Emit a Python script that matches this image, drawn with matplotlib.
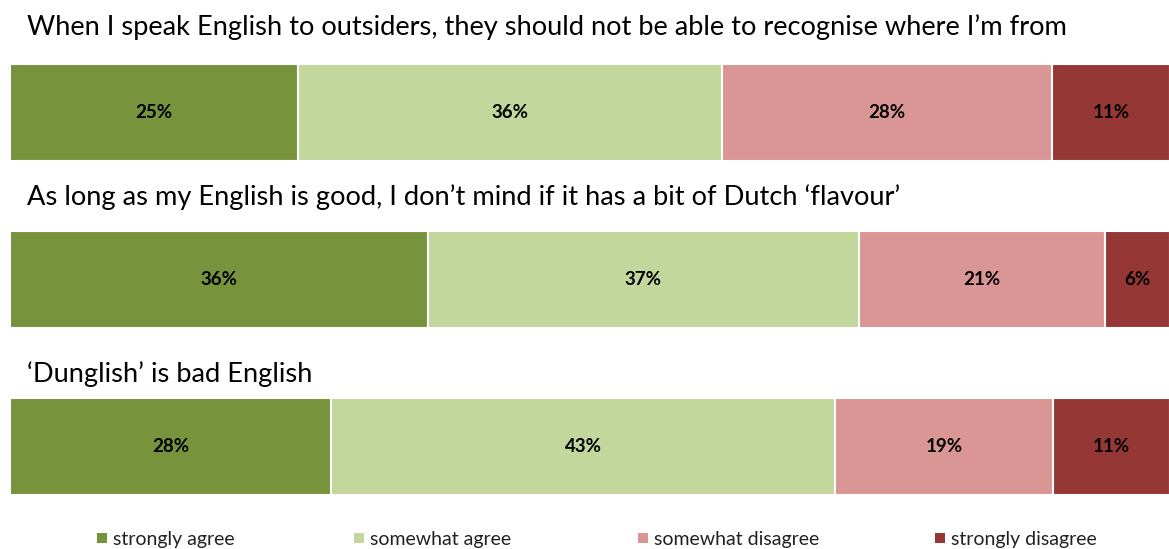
import matplotlib.pyplot as plt
from matplotlib.patches import Rectangle

plt.rcParams["font.family"] = ["Lato", "DejaVu Sans"]

statements = [
    "When I speak English to outsiders, they should not be able to recognise where I\u2019m from",
    "As long as my English is good, I don\u2019t mind if it has a bit of Dutch \u2018flavour\u2019",
    "\u2018Dunglish\u2019 is bad English",
]
categories = ["strongly agree", "somewhat agree", "somewhat disagree", "strongly disagree"]
colors = ["#77933C", "#C3D69B", "#D99694", "#953735"]

# shares, labels as printed on the bars
strongly_agree = [24.8, 36.0, 27.7]
somewhat_agree = [36.6, 37.2, 43.4]
somewhat_disagree = [28.4, 21.2, 18.8]
strongly_disagree = [10.2, 5.6, 10.1]
bar_labels = [
    ["25%", "36%", "28%", "11%"],
    ["36%", "37%", "21%", "6%"],
    ["28%", "43%", "19%", "11%"],
]

W, H = 1169, 549
fig = plt.figure(figsize=(W / 100, H / 100), dpi=100)

bar_h = 97 / 167
ax = fig.add_axes([10 / W, 1 - 495 / H, 1160 / W, 431 / H])
ax.set_xlim(0, 100)
ax.set_ylim(2 + bar_h / 2, -bar_h / 2)
ax.axis("off")

series = [strongly_agree, somewhat_agree, somewhat_disagree, strongly_disagree]
ypos = range(len(statements))
left = [0.0] * len(statements)
for k, (vals, color, name) in enumerate(zip(series, colors, categories)):
    bars = ax.barh(ypos, vals, left=left, height=bar_h, color=color,
                   edgecolor="white", linewidth=1.5, label=name)
    for i, b in enumerate(bars):
        ax.text(b.get_x() + b.get_width() / 2, i, bar_labels[i][k],
                ha="center", va="center", fontsize=13.5, fontweight="bold", color="black")
    left = [l + v for l, v in zip(left, vals)]

title_baselines = [35, 205, 382]
for text, yb in zip(statements, title_baselines):
    fig.text(27 / W, 1 - yb / H, text, ha="left", va="baseline", fontsize=19.6, color="black")

# legend
marker_x = [97, 354, 638, 935]
for x, color, name in zip(marker_x, colors, categories):
    fig.add_artist(Rectangle((x / W, 1 - 543 / H), 10 / W, 10 / H,
                             transform=fig.transFigure, facecolor=color, edgecolor="none"))
    fig.text((x + 16) / W, 1 - 538 / H, name, ha="left", va="center_baseline",
             fontsize=14, color="#222222")

fig.savefig("out.png", dpi=100)
